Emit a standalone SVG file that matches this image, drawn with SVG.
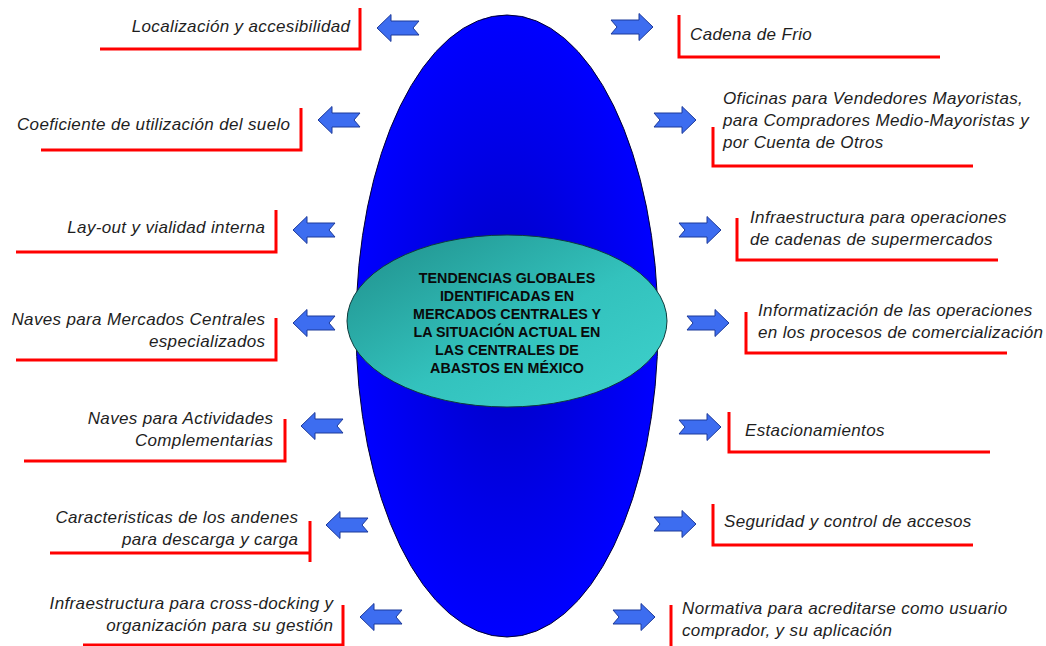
<svg xmlns="http://www.w3.org/2000/svg" xmlns:xlink="http://www.w3.org/1999/xlink" width="1046" height="646" viewBox="0 0 1046 646">
<style>
.lbl{font-family:"Liberation Sans",Arial,sans-serif;font-style:italic;font-size:17px;letter-spacing:0.35px;fill:#1e1e1e}
.l{text-anchor:end}
.r{text-anchor:start}
.br{fill:none;stroke:#ff0000;stroke-width:3}
.ctr{font-family:"Liberation Sans",Arial,sans-serif;font-weight:bold;font-size:14.3px;fill:#0a0a0a;text-anchor:middle}
.arr{fill:#3d6df0;stroke:#1d3a9a;stroke-width:1}
</style>
<defs>
<radialGradient id="blueG" cx="0.5" cy="0.5" r="0.5">
<stop offset="0" stop-color="#0000c0"/>
<stop offset="0.6" stop-color="#0000e8"/>
<stop offset="1" stop-color="#0000ff"/>
</radialGradient>
<linearGradient id="tealG" x1="0" y1="0" x2="1" y2="1">
<stop offset="0" stop-color="#1f8e8a"/>
<stop offset="0.55" stop-color="#33c2bd"/>
<stop offset="1" stop-color="#3ed2cd"/>
</linearGradient>
<path id="arr" class="arr" d="M -21,-7 L 7,-7 L 7,-13.5 L 21,0 L 7,13.5 L 7,7 L -21,7 L -15,0 Z"/>
</defs>
<rect width="1046" height="646" fill="#ffffff"/>

<g id="center">
<ellipse cx="507" cy="326" rx="151" ry="311" fill="url(#blueG)" stroke="#000033" stroke-width="1"/>
<ellipse cx="507" cy="321" rx="160" ry="86" fill="url(#tealG)" stroke="#0d3b3b" stroke-width="1"/>
<text class="ctr" x="507" y="283">TENDENCIAS GLOBALES</text>
<text class="ctr" x="507" y="301">IDENTIFICADAS EN</text>
<text class="ctr" x="507" y="319">MERCADOS CENTRALES Y</text>
<text class="ctr" x="507" y="337">LA SITUACIÓN ACTUAL EN</text>
<text class="ctr" x="507" y="355">LAS CENTRALES DE</text>
<text class="ctr" x="507" y="373">ABASTOS EN MÉXICO</text>
</g>

<g id="connectors">
<use href="#arr" transform="translate(398,28) scale(-1,1)"/>
<use href="#arr" transform="translate(339,120) scale(-1,1)"/>
<use href="#arr" transform="translate(314,230) scale(-1,1)"/>
<use href="#arr" transform="translate(314,323) scale(-1,1)"/>
<use href="#arr" transform="translate(322,426) scale(-1,1)"/>
<use href="#arr" transform="translate(347,525) scale(-1,1)"/>
<use href="#arr" transform="translate(381,617) scale(-1,1)"/>
<use href="#arr" transform="translate(632,27)"/>
<use href="#arr" transform="translate(675,120)"/>
<use href="#arr" transform="translate(700,230)"/>
<use href="#arr" transform="translate(708,323)"/>
<use href="#arr" transform="translate(700,427)"/>
<use href="#arr" transform="translate(675,524)"/>
<use href="#arr" transform="translate(634,617)"/>
</g>

<g id="n-localizacion">
<polyline class="br" points="100,49 360,49 360,8"/>
<text class="lbl l" x="350.4" y="32">Localización y accesibilidad</text>
</g>
<g id="n-coeficiente">
<polyline class="br" points="41,150 301,150 301,108"/>
<text class="lbl l" x="290.4" y="130">Coeficiente de utilización del suelo</text>
</g>
<g id="n-layout">
<polyline class="br" points="16,252 276,252 276,210"/>
<text class="lbl l" x="265.4" y="233">Lay-out y vialidad interna</text>
</g>
<g id="n-naves-mercados">
<polyline class="br" points="16,360 276,360 276,318"/>
<text class="lbl l" x="265.4" y="325">Naves para Mercados Centrales</text>
<text class="lbl l" x="265.4" y="347">especializados</text>
</g>
<g id="n-naves-actividades">
<polyline class="br" points="24,461 285,461 285,419"/>
<text class="lbl l" x="273.4" y="424">Naves para Actividades</text>
<text class="lbl l" x="273.4" y="446">Complementarias</text>
</g>
<g id="n-andenes">
<polyline class="br" points="50,553 310,553"/>
<line class="br" x1="310" y1="521" x2="310" y2="562"/>
<text class="lbl l" x="298.4" y="523">Caracteristicas de los andenes</text>
<text class="lbl l" x="298.4" y="545">para descarga y carga</text>
</g>
<g id="n-crossdocking">
<polyline class="br" points="83,645 343,645 343,605"/>
<text class="lbl l" x="333.4" y="609">Infraestructura para cross-docking y</text>
<text class="lbl l" x="333.4" y="631">organización para su gestión</text>
</g>

<g id="n-cadena">
<polyline class="br" points="679,15 679,57 940,57"/>
<text class="lbl r" x="690" y="40">Cadena de Frio</text>
</g>
<g id="n-oficinas">
<polyline class="br" points="713,127 713,166 973,166"/>
<text class="lbl r" x="723" y="104">Oficinas para Vendedores Mayoristas,</text>
<text class="lbl r" x="723" y="126">para Compradores Medio-Mayoristas y</text>
<text class="lbl r" x="723" y="148">por Cuenta de Otros</text>
</g>
<g id="n-supermercados">
<polyline class="br" points="737,218 737,260 998,260"/>
<text class="lbl r" x="750" y="223">Infraestructura para operaciones</text>
<text class="lbl r" x="750" y="245">de cadenas de supermercados</text>
</g>
<g id="n-informatizacion">
<polyline class="br" points="746,312 746,353 1007,353"/>
<text class="lbl r" x="758" y="316">Informatización de las operaciones</text>
<text class="lbl r" x="758" y="338">en los procesos de comercialización</text>
</g>
<g id="n-estacionamientos">
<polyline class="br" points="729,412 729,452 990,452"/>
<text class="lbl r" x="745" y="436">Estacionamientos</text>
</g>
<g id="n-seguridad">
<polyline class="br" points="713,504 713,545 973,545"/>
<text class="lbl r" x="724" y="527">Seguridad y control de accesos</text>
</g>
<g id="n-normativa">
<polyline class="br" points="671,605 671,646"/>
<text class="lbl r" x="682" y="614">Normativa para acreditarse como usuario</text>
<text class="lbl r" x="682" y="636">comprador, y su aplicación</text>
</g>
</svg>
